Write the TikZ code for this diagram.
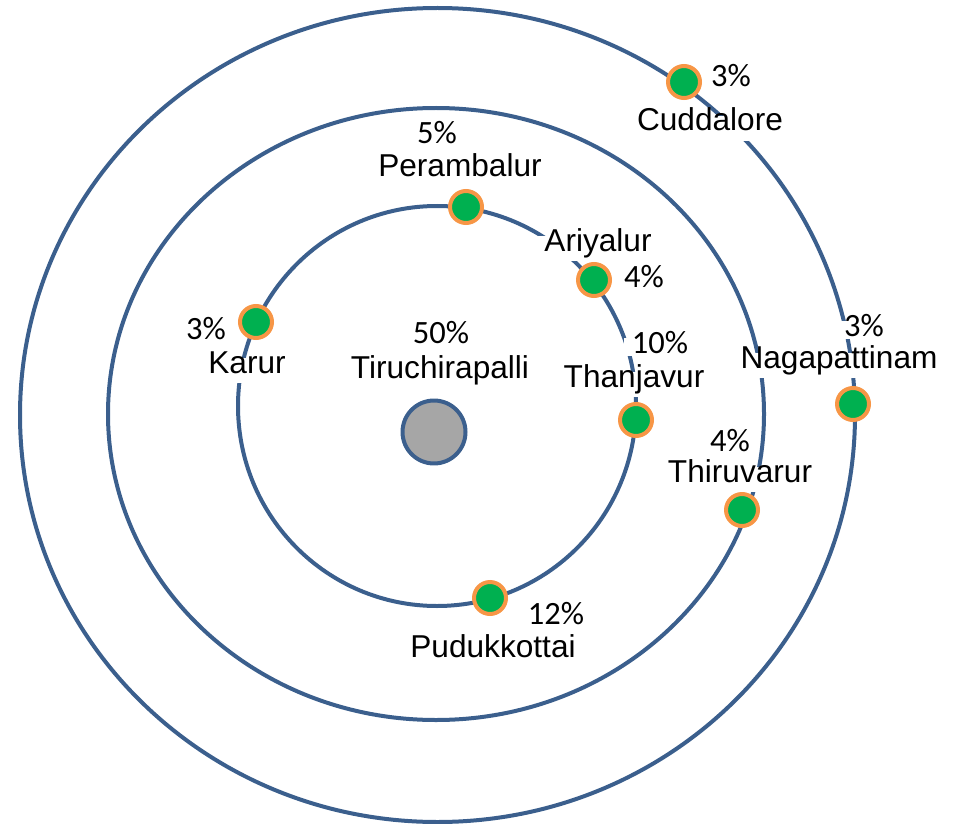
\documentclass[tikz,border=0pt]{standalone}
\usepackage{fontspec}
\setmainfont{Liberation Sans}
\newfontfamily\pctfamily{Carlito}

\definecolor{ringblue}{RGB}{59,95,141}
\definecolor{dotgreen}{RGB}{0,176,80}
\definecolor{dotorange}{RGB}{247,150,70}
\definecolor{hubgray}{RGB}{166,166,166}

\tikzset{
  ring/.style={draw=ringblue,line width=0.08cm},
  dot/.style={circle,draw=dotorange,fill=dotgreen,line width=0.08cm,
              minimum size=0.64cm,inner sep=0pt},
  hub/.style={circle,draw=ringblue,fill=hubgray,line width=0.08cm,
              minimum size=1.26cm,inner sep=0pt},
  lbl/.style={fill=white,anchor=base,inner xsep=0.16cm,inner ysep=0.05cm,
              text height=0.72em},
  town/.style={lbl,text depth=0.45em,font=\fontsize{18}{20}\selectfont},
  pct/.style={lbl,text depth=0.05em,font=\pctfamily\fontsize{18.5}{20}\selectfont}
}

\begin{document}
\begin{tikzpicture}[x=0.02cm,y=-0.02cm]
\useasboundingbox (0,0) rectangle (956,824);
% the three orbits
\draw[ring] (437,406) ellipse [x radius=199,y radius=200];
\draw[ring] (436,414) ellipse [x radius=328,y radius=306];
\draw[ring] (437.5,415) ellipse [x radius=417.5,y radius=407];
\node[hub] (tri) at (434,432) {};
% districts on the orbits
\foreach \x/\y/\n in {684/82/cud, 466/207/per, 594/280/ari, 256/322/kar,
                      636/420/tha, 853/404/nag, 742/510/thi, 490/598/pud}
    \node[dot] (d\n) at (\x,\y) {};
% shares, then names (given at their baselines)
\foreach \x/\y/\n/\p in {731/87/cud/3, 437/144/per/5, 644/287/ari/4,
                         206/339/kar/3, 441/343/tri/50, 660/353/tha/10,
                         864/336/nag/3, 730/451/thi/4, 556/624/pud/12}
    \node[pct] (p\n) at (\x,\y) {\p\%};
\foreach \x/\y/\n/\t in {710/131/cud/Cuddalore, 460/176/per/Perambalur,
                         598/251/ari/Ariyalur, 247/373/kar/Karur,
                         440/378/tri/Tiruchirapalli, 634/387/tha/Thanjavur,
                         839/368/nag/Nagapattinam, 740/482/thi/Thiruvarur,
                         493/657/pud/Pudukkottai}
    \node[town] (t\n) at (\x,\y) {\t};
\end{tikzpicture}
\end{document}
